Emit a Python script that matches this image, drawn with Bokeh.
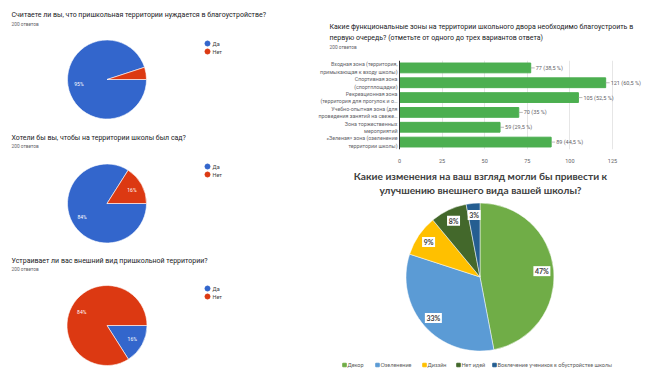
import math
from bokeh.plotting import figure
from bokeh.layouts import row, column
from bokeh.models import Range1d, FactorRange, FixedTicker, ColumnDataSource, Span
from bokeh.core.properties import value
from bokeh.embed import file_html
from bokeh.resources import INLINE

# ---------------- data ----------------
q1_title = "Считаете ли вы, что пришкольная территории нуждается в благоустройстве?"
q2_title = "Хотели бы вы, чтобы на территории школы был сад?"
q3_title = "Устраивает ли вас внешний вид пришкольной территории?"
responses_note = "200 ответов"
yn_labels = ["Да", "Нет"]
q1_values = [95, 5]
q2_values = [84, 16]
q3_values = [16, 84]

zones_title = ["Какие функциональные зоны на территории школьного двора необходимо благоустроить в",
               "первую очередь? (отметьте от одного до трех вариантов ответа)"]
zones = ["Входная зона (территория,\nпримыкающая к входу школы)",
         "Спортивная зона\n(спортплощадки)",
         "Рекреационная зона\n(территория для прогулок и о…",
         "Учебно-опытная зона (для\nпроведения занятий на свеже…",
         "Зона торжественных\nмероприятий",
         "«Зеленая» зона (озеленение\nтерритории школы)"]
zones_counts = [77, 121, 105, 70, 59, 89]
zones_pct = ["38,5", "60,5", "52,5", "35", "29,5", "44,5"]
zones_ticks = [0, 25, 50, 75, 100, 125]

changes_title = ["Какие изменения на ваш взгляд могли бы привести к",
                 "улучшению внешнего вида вашей школы?"]
changes_labels = ["Декор", "Озеленение", "Дизайн", "Нет идей",
                  "Вовлечение учеников в обустройстве школы"]
changes_pct = [47, 33, 9, 8, 3]

# ---------------- style ----------------
YN_COLORS = ["#3366CC", "#DC3912"]
BAR_COLOR = "#4CAF50"
CHANGE_COLORS = ["#70AD47", "#5B9BD5", "#FFC000", "#43682B", "#255E91"]
GF = value("Roboto")
XL = value("Lato")


def blank(W, H):
    p = figure(width=W, height=H, x_range=Range1d(0, W), y_range=Range1d(-H, 0),
               toolbar_location=None, output_backend="svg", min_border=0)
    p.axis.visible = False
    p.grid.visible = False
    p.outline_line_color = None
    p.background_fill_color = "white"
    p.border_fill_color = "white"
    return p


def google_pie(title, vals, W, H, title_y, note_y, cx, cy, r, leg_y):
    p = blank(W, H)
    p.text(x=[11], y=[-title_y], text=[title], text_font=GF, text_font_size="7px",
           text_color="#202124", text_baseline="middle")
    p.text(x=[11], y=[-note_y], text=[responses_note], text_font=GF, text_font_size="4.8px",
           text_color="#5f6368", text_baseline="middle")
    total = float(sum(vals))
    cum = 0.0
    starts, ends, lx, ly, lt = [], [], [], [], []
    for v in vals:
        a0 = -2 * math.pi * cum / total
        a1 = -2 * math.pi * (cum + v) / total
        starts.append(a1)
        ends.append(a0)
        mid = (a0 + a1) / 2
        if v >= 10:
            lx.append(cx + 0.72 * r * math.cos(mid))
            ly.append(-cy + 0.72 * r * math.sin(mid))
            lt.append(f"{v}%")
        cum += v
    src = ColumnDataSource(dict(s=starts, e=ends, c=YN_COLORS))
    p.wedge(x=cx, y=-cy, radius=r, start_angle="s", end_angle="e", fill_color="c",
            line_color="white", line_width=0.6, source=src)
    p.text(x=lx, y=ly, text=lt, text_font=GF, text_font_size="5px", text_color="white",
           text_align="center", text_baseline="middle")
    p.scatter(x=[207, 207], y=[-leg_y, -(leg_y + 8)], size=5, color=YN_COLORS)
    p.text(x=[212, 212], y=[-leg_y, -(leg_y + 8)], text=yn_labels, text_font=GF,
           text_font_size="5.5px", text_color="#3c4043", text_baseline="middle")
    return p


LW = 310
p1 = google_pie(q1_title, q1_values, LW, 125, 14, 24, 106.5, 79, 39.5, 43)
p2 = google_pie(q2_title, q2_values, LW, 125, 12, 21, 106.5, 78, 39.5, 41)
p3 = google_pie(q3_title, q3_values, LW, 124, 10, 19, 106.5, 75, 40, 38)

RW = 355
# ---- bar chart title ----
pt = blank(RW, 60)
pt.text(x=[19, 19], y=[-26, -37], text=zones_title, text_font=GF, text_font_size="7px",
        text_color="#202124", text_baseline="middle")
pt.text(x=[19], y=[-47], text=[responses_note], text_font=GF, text_font_size="4.8px",
        text_color="#5f6368", text_baseline="middle")

# ---- bar chart ----
PXU = 213 / 125.0          # pixels per unit along the value axis
AX0 = 89                   # pixel position of the zero line inside the panel
pb = figure(width=RW, height=105, y_range=FactorRange(factors=zones[::-1]),
            x_range=Range1d(-AX0 / PXU, (RW - AX0) / PXU), toolbar_location=None,
            output_backend="svg", min_border_left=0, min_border_right=0,
            min_border_top=0, min_border_bottom=15)
pb.outline_line_color = None
pb.yaxis.visible = False
bsrc = ColumnDataSource(dict(z=zones, c=zones_counts, zero=[0] * len(zones),
                             t=[f"{c} ({q} %)" for c, q in zip(zones_counts, zones_pct)]))
pb.hbar(y="z", right="c", left=0, height=0.66, color=BAR_COLOR, source=bsrc)
pb.ray(x="c", y="z", length=4, length_units="screen", angle=0, line_color="#9e9e9e",
       line_width=0.7, source=bsrc)
pb.text(x="c", y="z", text="t", x_offset=5, text_font=GF, text_font_size="5.5px",
        text_color="#5f6368", text_baseline="middle", source=bsrc)
pb.text(x="zero", y="z", text="z", x_offset=-2, text_font=GF, text_font_size="5.3px",
        text_color="#5f6368", text_align="right", text_baseline="middle",
        text_line_height=1.25, source=bsrc)
pb.add_layout(Span(location=0, dimension="height", line_color="#333333", line_width=1))
pb.xaxis.ticker = FixedTicker(ticks=zones_ticks)
pb.xaxis.axis_line_color = None
pb.xaxis.major_tick_line_color = None
pb.xaxis.minor_tick_line_color = None
pb.xaxis.major_label_standoff = 3
pb.xaxis.major_label_text_font = "Roboto"
pb.xaxis.major_label_text_font_size = "5.5px"
pb.xaxis.major_label_text_color = "#5f6368"
pb.xgrid.grid_line_color = "#e6e6e6"
pb.xgrid.ticker = FixedTicker(ticks=zones_ticks[1:])
pb.ygrid.grid_line_color = None

# ---- excel pie ----
W5, H5 = RW, 209
p5 = blank(W5, H5)
cx, cy, r = 169.5, 111.5, 74
p5.text(x=[170, 170], y=[-10, -24], text=changes_title, text_font=XL, text_font_size="10.2px",
        text_font_style="bold", text_color="#404040", text_align="center", text_baseline="middle")
tot = float(sum(changes_pct))
cum = 0.0
st, en, mx, my = [], [], [], []
for v in changes_pct:
    a0 = math.pi / 2 - 2 * math.pi * cum / tot
    a1 = math.pi / 2 - 2 * math.pi * (cum + v) / tot
    st.append(a1)
    en.append(a0)
    m = (a0 + a1) / 2
    mx.append(cx + 0.84 * r * math.cos(m))
    my.append(-cy + 0.84 * r * math.sin(m))
    cum += v
psrc = ColumnDataSource(dict(s=st, e=en, c=CHANGE_COLORS, x=mx, y=my,
                             t=[f"{v}%" for v in changes_pct],
                             w=[17 if v >= 10 else 13 for v in changes_pct]))
p5.wedge(x=cx, y=-cy, radius=r, start_angle="s", end_angle="e", fill_color="c",
         line_color="white", line_width=0.5, source=psrc)
p5.rect(x="x", y="y", width="w", height=10, width_units="screen", height_units="screen",
        fill_color="white", line_color=None, source=psrc)
p5.text(x="x", y="y", text="t", text_font=XL, text_font_size="7px", text_font_style="bold",
        text_color="#404040", text_align="center", text_baseline="middle", source=psrc)
leg_x = [34, 67, 114, 148, 184]
p5.scatter(x=leg_x, y=[-199.5] * 5, marker="square", size=3.5, color=CHANGE_COLORS)
p5.text(x=[x + 3 for x in leg_x], y=[-199.5] * 5, text=changes_labels, text_font=XL,
        text_font_size="5.5px", text_color="#595959", text_baseline="middle")

layout = row(column(p1, p2, p3), column(pt, pb, p5))
open("out.html", "w").write(file_html(layout, INLINE))
